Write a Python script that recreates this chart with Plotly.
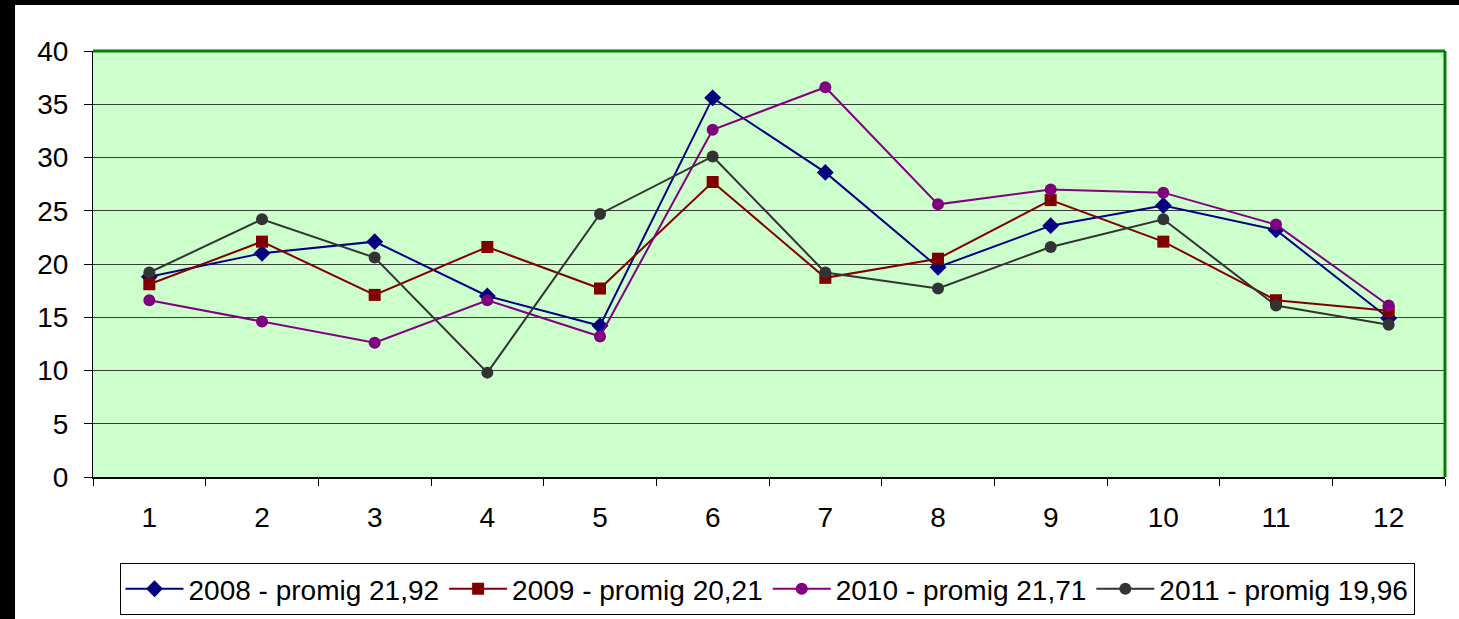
import plotly.graph_objects as go

# months
months = [str(m) for m in range(1, 13)]

# monthly values per year
v2008 = [18.8, 21.0, 22.1, 17.0, 14.2, 35.6, 28.6, 19.7, 23.6, 25.5, 23.2, 14.9]
v2009 = [18.1, 22.1, 17.1, 21.6, 17.7, 27.7, 18.7, 20.5, 26.0, 22.1, 16.6, 15.6]
v2010 = [16.6, 14.6, 12.6, 16.6, 13.2, 32.6, 36.6, 25.6, 27.0, 26.7, 23.7, 16.1]
v2011 = [19.2, 24.2, 20.6, 9.8, 24.7, 30.1, 19.2, 17.7, 21.6, 24.2, 16.1, 14.3]

series = [
    ("2008 - promig 21,92", v2008, "#000080", "diamond"),
    ("2009 - promig 20,21", v2009, "#800000", "square"),
    ("2010 - promig 21,71", v2010, "#800080", "circle"),
    ("2011 - promig 19,96", v2011, "#333333", "circle"),
]

fig = go.Figure()
for name, vals, col, sym in series:
    fig.add_trace(go.Scatter(
        x=months, y=vals, name=name, mode="lines+markers",
        line=dict(color=col, width=2),
        marker=dict(symbol=sym, size=12 if sym != "diamond" else 13, color=col),
    ))

W, H = 1459, 619
L, R, T, B = 93, 14, 51, 142
pw, ph = W - L - R, H - T - B

def px_x(x):
    return (x - L) / pw

def px_y(y):
    return (H - B - y) / ph

fig.update_layout(
    width=W, height=H,
    margin=dict(l=L, r=R, t=T, b=B, autoexpand=False),
    paper_bgcolor="white",
    plot_bgcolor="#CCFFCC",
    font=dict(family="Liberation Sans, Arial", size=28, color="black"),
    showlegend=True,
    legend=dict(
        orientation="h", xref="container", yref="container",
        x=767 / W, xanchor="center", y=1 - 563 / H, yanchor="top",
        bordercolor="black", borderwidth=1, bgcolor="white",
        font=dict(size=28), itemwidth=58, tracegroupgap=0,
    ),
    xaxis=dict(
        type="category", range=[-0.5, 11.5], tickson="boundaries",
        ticks="outside", ticklen=7, tickcolor="black",
        showline=True, linecolor="black", linewidth=2,
        showgrid=False, ticklabelstandoff=14,
    ),
    yaxis=dict(
        range=[0, 40], dtick=5, ticks="outside", ticklen=8, tickcolor="black",
        showline=True, linecolor="black", linewidth=1,
        gridcolor="#3a3a3a", gridwidth=1, zeroline=False, ticklabelstandoff=10,
    ),
    shapes=[
        dict(type="line", xref="paper", yref="paper", x0=0, x1=1, y0=1, y1=1,
             line=dict(color="#008000", width=3), layer="above"),
        dict(type="line", xref="paper", yref="paper", x0=1, x1=1, y0=0, y1=1,
             line=dict(color="#008000", width=3), layer="above"),
        dict(type="rect", xref="paper", yref="paper",
             x0=px_x(0), x1=px_x(15), y0=px_y(H), y1=px_y(0),
             fillcolor="black", line=dict(width=0)),
        dict(type="rect", xref="paper", yref="paper",
             x0=px_x(0), x1=px_x(W), y0=px_y(5), y1=px_y(0),
             fillcolor="black", line=dict(width=0)),
    ],
)

fig.write_html("out.html", config={"displayModeBar": False},
               post_script="document.body.style.margin='0';")
